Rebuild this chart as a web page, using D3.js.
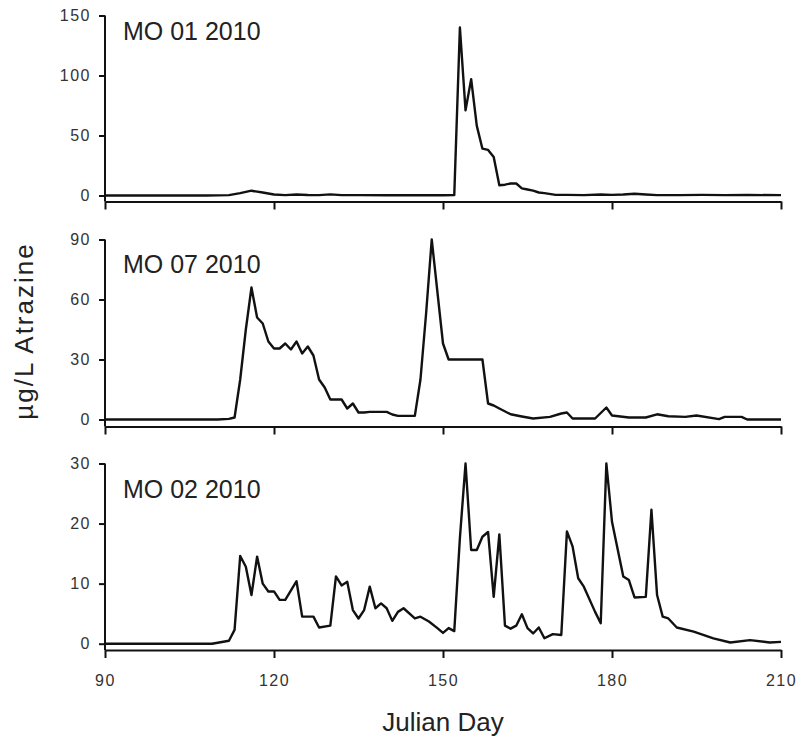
<!DOCTYPE html>
<html>
<head>
<meta charset="utf-8">
<script src="https://cdn.jsdelivr.net/npm/d3@7"></script>
<style>
  body { margin: 0; background: #fff; }
  svg { display: block; font-family: Arial, "Liberation Sans", sans-serif; }
  .tick text { font-size: 16px; fill: #333; letter-spacing: 1.5px; }
  .axis path, .axis line { stroke: #111; stroke-width: 2; }
</style>
</head>
<body>
<script>
// Julian day axis
const dayTicks = [90, 120, 150, 180, 210];

// MO 01 2010
const mo01Days = [90, 100, 108, 112, 114, 116, 118, 120, 122, 124, 126, 128, 130, 132, 135, 140, 145, 150, 152,
  153, 154, 155, 156, 157, 158, 159, 160, 161, 162, 163, 164, 165, 166, 167, 168, 170, 172, 175, 178, 180,
  182, 184, 186, 188, 192, 196, 200, 204, 210];
const mo01Values = [0, 0, 0, 0.3, 2, 4, 2.5, 0.8, 0.3, 0.8, 0.4, 0.3, 0.9, 0.3, 0.3, 0.2, 0.2, 0.2, 0.3,
  140, 71, 97, 58, 39, 38, 32, 8.5, 9, 10, 10, 6, 5, 4, 2.5, 2, 0.5, 0.5, 0.3, 0.8, 0.5,
  0.8, 1.5, 0.8, 0.3, 0.3, 0.5, 0.3, 0.4, 0.3];
const mo01Ticks = [0, 50, 100, 150];

// MO 07 2010
const mo07Days = [90, 100, 110, 112, 113, 114, 115, 116, 117, 118, 119, 120, 121, 122, 123, 124, 125, 126, 127,
  128, 129, 130, 132, 133, 134, 135, 136, 137, 140, 141, 142, 145, 146, 147, 148, 150, 151, 157, 158, 159,
  160, 162, 164, 166, 169, 171, 172, 173, 177, 179, 180, 183, 186, 188, 190, 193, 195, 199, 200, 203, 204, 210];
const mo07Values = [0, 0, 0, 0.3, 1, 20, 45, 66, 51, 48, 39, 35.5, 35.5, 38, 35, 39, 33, 36.5, 32,
  20, 16, 10, 10, 5.5, 8, 3.5, 3.5, 3.8, 3.8, 2.5, 1.8, 1.8, 20, 53, 90, 38, 30, 30, 8, 7,
  5.5, 2.6, 1.5, 0.5, 1.3, 3, 3.5, 0.5, 0.5, 6, 2, 1, 1, 2.6, 1.6, 1.3, 2, 0.2, 1.3, 1.3, 0, 0];
const mo07Ticks = [0, 30, 60, 90];

// MO 02 2010
const mo02Days = [90, 100, 109, 112, 113, 114, 115, 116, 117, 118, 119, 120, 121, 122, 124, 125, 127, 128, 130,
  131, 132, 133, 134, 135, 136, 137, 138, 139, 140, 141, 142, 143, 145, 146, 147.5, 149, 150, 151, 152,
  153, 154, 155, 156, 157, 158, 159, 160, 161, 162, 163, 164, 165, 166, 167, 168, 169.5, 171,
  172, 173, 174, 175, 177, 178, 179, 180, 182, 183, 184, 186, 187, 188, 189, 190, 191.5, 194.5,
  198, 201, 204.5, 208, 210];
const mo02Values = [0, 0, 0, 0.5, 2.3, 14.6, 12.8, 8.1, 14.5, 10, 8.7, 8.7, 7.3, 7.3, 10.4, 4.5, 4.5, 2.7, 3,
  11.2, 9.7, 10.3, 5.6, 4.2, 5.6, 9.5, 5.9, 6.7, 5.9, 3.8, 5.3, 5.9, 4.2, 4.5, 3.7, 2.6, 1.8, 2.6, 2.1,
  17.6, 30, 15.6, 15.6, 17.8, 18.6, 7.8, 18.2, 3, 2.5, 3, 4.9, 2.6, 1.7, 2.7, 0.9, 1.6, 1.45,
  18.7, 16.2, 10.9, 9.5, 5.3, 3.4, 30, 20.3, 11.2, 10.6, 7.7, 7.8, 22.3, 8.1, 4.5, 4.2, 2.7, 2,
  0.9, 0.2, 0.6, 0.2, 0.3];
const mo02Ticks = [0, 10, 20, 30];

const panels = [
  { name: 'MO 01 2010', days: mo01Days, values: mo01Values, ticks: mo01Ticks, top: 15.5, bottom: 195.5, axisY: 201.5, titleY: 39.5 },
  { name: 'MO 07 2010', days: mo07Days, values: mo07Values, ticks: mo07Ticks, top: 239.5, bottom: 419.5, axisY: 426.5, titleY: 272.5 },
  { name: 'MO 02 2010', days: mo02Days, values: mo02Values, ticks: mo02Ticks, top: 463.5, bottom: 643.7, axisY: 650, titleY: 497.5 },
];

const width = 796;
const height = 745;
const left = 105;

const svg = d3.select('body').append('svg')
  .attr('width', width)
  .attr('height', height);

const x = d3.scaleLinear().domain([90, 210]).range([left, 781]);

panels.forEach((p, i) => {
  const ymax = d3.max(p.ticks);
  const y = d3.scaleLinear().domain([0, ymax]).range([p.bottom, p.top]);
  const g = svg.append('g');

  const yAxis = g.append('g')
    .attr('class', 'axis')
    .attr('transform', `translate(${left},0)`)
    .call(d3.axisLeft(y).tickValues(p.ticks).tickSize(6).tickSizeOuter(0).tickPadding(8));
  yAxis.select('.domain').remove();

  // vertical axis runs down to the day axis
  g.append('line')
    .attr('x1', left).attr('x2', left)
    .attr('y1', y(ymax)).attr('y2', p.axisY)
    .attr('stroke', '#111').attr('stroke-width', 2);

  const xAxis = g.append('g')
    .attr('class', 'axis')
    .attr('transform', `translate(0,${p.axisY})`)
    .call(d3.axisBottom(x).tickValues(dayTicks).tickSize(8).tickSizeOuter(0).tickPadding(17));
  if (i < panels.length - 1) xAxis.selectAll('text').remove();

  const line = d3.line()
    .x((d) => x(d[0]))
    .y((d) => y(d[1]));

  g.append('path')
    .datum(d3.zip(p.days, p.values))
    .attr('d', line)
    .attr('fill', 'none')
    .attr('stroke', '#111')
    .attr('stroke-width', 2.4)
    .attr('stroke-linejoin', 'round');

  g.append('text')
    .attr('x', 123)
    .attr('y', p.titleY)
    .attr('font-size', 25)
    .attr('fill', '#222')
    .text(p.name);
});

svg.append('text')
  .attr('x', 443)
  .attr('y', 731)
  .attr('text-anchor', 'middle')
  .attr('font-size', 26)
  .attr('fill', '#222')
  .text('Julian Day');

svg.append('text')
  .attr('transform', 'translate(33,331) rotate(-90)')
  .attr('text-anchor', 'middle')
  .attr('font-size', 26)
  .attr('letter-spacing', 2)
  .attr('fill', '#222')
  .text('µg/L Atrazine');
</script>
</body>
</html>
